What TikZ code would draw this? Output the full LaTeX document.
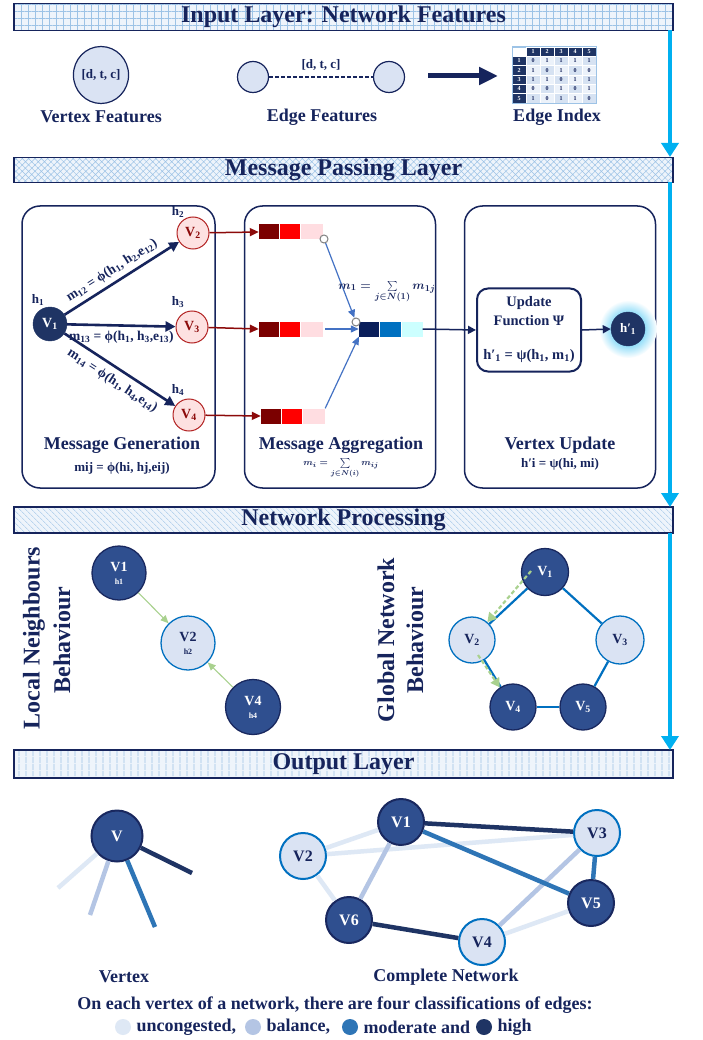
\documentclass[tikz,border=0pt]{standalone}
\usepackage{fontspec}
\setmainfont{Liberation Serif}
\usetikzlibrary{arrows.meta,patterns.meta,shapes.geometric,calc}
\definecolor{navy}{RGB}{22,36,92}
\definecolor{nodenavy}{RGB}{31,52,100}
\definecolor{gnavy}{RGB}{47,79,143}
\definecolor{gstroke}{RGB}{25,40,95}
\definecolor{lightfill}{RGB}{218,227,243}
\definecolor{brightblue}{RGB}{0,112,192}
\definecolor{pinkfill}{RGB}{253,225,225}
\definecolor{darkred}{RGB}{140,10,10}
\definecolor{redstroke}{RGB}{178,34,34}
\definecolor{cellred}{RGB}{255,0,0}
\definecolor{celldark}{RGB}{123,0,0}
\definecolor{cellpink}{RGB}{255,221,225}
\definecolor{aggnavy}{RGB}{10,30,90}
\definecolor{aggblue}{RGB}{0,112,192}
\definecolor{aggcyan}{RGB}{204,255,255}
\definecolor{arrowblue}{RGB}{68,114,196}
\definecolor{cyanarrow}{RGB}{0,176,240}
\definecolor{greenarr}{RGB}{169,209,142}
\definecolor{bannerbg}{RGB}{238,244,251}
\definecolor{patblue}{RGB}{157,195,230}
\definecolor{elight}{RGB}{222,232,245}
\definecolor{ebal}{RGB}{180,197,228}
\definecolor{emod}{RGB}{46,117,182}
\definecolor{ehigh}{RGB}{31,52,100}
\definecolor{matcell}{RGB}{214,226,242}
\definecolor{matcellb}{RGB}{236,242,250}
\newcommand{\fsz}[1]{\fontsize{#1}{#1}\selectfont}
\newcommand{\mformA}{\mbox{\boldmath$m_1 \mathrel{=} \sum\limits_{j\in N(1)} m_{1j}$}}
\newcommand{\mformB}{\mbox{\boldmath$m_i = \sum\limits_{j\in N(i)} m_{ij}$}}
\tikzset{
  banner/.style={draw=navy, line width=1.2pt, minimum width=659pt, inner sep=0pt,
    font=\fsz{24}\bfseries, text=navy, preaction={fill=bannerbg}, pattern color=patblue},
  cyanarr/.style={draw=cyanarrow, line width=4pt, -{Triangle[width=17pt,length=14pt]}},
  lbl/.style={font=\fsz{18}\bfseries, text=navy},
  small/.style={font=\fsz{13}\bfseries, text=navy},
  mlab/.style={font=\fsz{13.5}\bfseries, text=navy, inner sep=1pt},
  panelbox/.style={draw=navy, line width=1.5pt, rounded corners=18pt, minimum width=191pt, minimum height=282pt},
  vnavy/.style={circle, fill=nodenavy, draw=nodenavy, text=white, minimum size=34pt, inner sep=0pt, font=\fsz{14}\bfseries},
  vpink/.style={circle, fill=pinkfill, draw=redstroke, line width=1pt, text=darkred, minimum size=32pt, inner sep=0pt, font=\fsz{14}\bfseries},
  navyarr/.style={draw=navy, line width=2.6pt, -{Triangle[width=10pt,length=10pt]}},
  navythin/.style={draw=navy, line width=1.5pt, -{Triangle[width=8pt,length=8pt]}},
  redarr/.style={draw=darkred, line width=1.5pt, -{Triangle[width=8pt,length=9pt]}},
  bluearr/.style={draw=arrowblue, line width=1.2pt, -{Triangle[width=7pt,length=8pt]}},
  cell/.style={minimum height=15pt, inner sep=0pt, draw=none},
  smallc/.style={circle, draw=gray, fill=white, line width=1pt, minimum size=8pt, inner sep=0pt},
  gnode/.style={circle, fill=gnavy, draw=gstroke, line width=1.3pt, text=white, inner sep=0pt, font=\fsz{14}\bfseries, align=center},
  lnode/.style={circle, fill=lightfill, draw=brightblue, line width=1.3pt, text=navy, inner sep=0pt, font=\fsz{14}\bfseries, align=center},
  onode/.style={minimum size=46pt, line width=2pt, font=\fsz{16}\bfseries},
  greenarr/.style={draw=greenarr, line width=1.1pt, -{Triangle[width=7pt,length=8pt]}},
  gdash/.style={draw=greenarr, line width=2.2pt, dash pattern=on 4pt off 2.5pt, -{Triangle[width=10pt,length=9pt]}},
  blueedge/.style={draw=brightblue, line width=2.2pt},
  oedge/.style={line width=4.5pt},
  mcell/.style={minimum width=14pt, minimum height=9.3pt, inner sep=0pt, draw=white, line width=0.4pt, font=\fsz{6}\bfseries, text=navy},
  mhead/.style={mcell, fill=nodenavy, text=white},
  legc/.style={circle, minimum size=16pt, inner sep=0pt}
}
\begin{document}
\begin{tikzpicture}[x=1pt,y=-1pt]
\useasboundingbox[fill=white] (0,0) rectangle (702,1040);

% ---------------- banners ----------------
\node[banner, minimum height=27pt, pattern={Hatch[angle=0,distance=7pt,line width=0.5pt]}] (b1) at (343.5,17) {Input Layer: Network Features};
\node[banner, minimum height=25pt, pattern={Hatch[angle=45,distance=4.5pt,line width=0.5pt]}] (b2) at (343.5,170) {Message Passing Layer};
\node[banner, minimum height=26pt, pattern={Lines[angle=-45,distance=4pt,line width=0.5pt]}] (b3) at (343.5,520) {Network Processing};
\node[banner, minimum height=28pt, pattern={Lines[angle=90,distance=6.5pt,line width=0.8pt]}] (b4) at (343.5,764) {Output Layer};

% ---------------- flow arrows ----------------
\coordinate (s1) at (670,30.5); \coordinate (t1) at (670,157);
\coordinate (s2) at (670,182.5); \coordinate (t2) at (670,507);
\coordinate (s3) at (670,533); \coordinate (t3) at (670,750);
\draw[cyanarr] (s1) -- (t1);
\draw[cyanarr] (s2) -- (t2);
\draw[cyanarr] (s3) -- (t3);

% ---------------- input layer ----------------
\node[ellipse, draw=navy, line width=1.2pt, fill=lightfill, minimum width=52pt, minimum height=57pt, inner sep=0pt, small] (vf) at (101,75) {[d, t, c]};
\node[lbl] (vfl) at (101,117) {Vertex Features};
\node[circle, draw=navy, line width=1.2pt, fill=lightfill, minimum size=31pt] (ef1) at (253,77) {};
\node[circle, draw=navy, line width=1.2pt, fill=lightfill, minimum size=31pt] (ef2) at (389,77) {};
\draw[navy, line width=2.6pt, dash pattern=on 3.5pt off 2.5pt] (ef1) -- (ef2) node[midway, above=2pt, small] (efd) {[d, t, c]};
\node[lbl] (efl) at (322,117) {Edge Features};
\coordinate (ba1) at (428,76); \coordinate (ba2) at (498,76);
\draw[navy, line width=5pt, -{Triangle[width=17pt,length=19pt]}] (ba1) -- (ba2);
% adjacency matrix
\node[mcell, fill=white, draw=patblue] (m00) at (519,51.65) {};
\foreach \k in {1,...,5} {
  \node[mhead] (mc\k) at ({519+14*\k},51.65) {\k};
  \node[mhead] (mr\k) at (519,{51.65+9.3*\k}) {\k};
}
\foreach \r/\va/\vb/\vc/\vd/\ve in {1/0/1/1/1/1, 2/1/0/1/0/0, 3/1/1/0/1/1, 4/0/0/1/0/1, 5/1/0/1/1/0} {
  \foreach \v [count=\k] in {\va,\vb,\vc,\vd,\ve} {
    \pgfmathsetmacro{\odd}{mod(\k+\r,2)}
    \ifdim\odd pt=0pt
      \node[mcell, fill=matcell] (m\r\k) at ({519+14*\k},{51.65+9.3*\r}) {\v};
    \else
      \node[mcell, fill=matcellb] (m\r\k) at ({519+14*\k},{51.65+9.3*\r}) {\v};
    \fi
  }
}
\draw[patblue, line width=0.6pt] (m00.north west) rectangle (m55.south east);
\node[lbl] (eil) at (557,117) {Edge Index};

% ---------------- message passing layer ----------------
\node[panelbox, minimum width=193pt] (boxA) at (118.5,347) {};
\node[panelbox] (boxB) at (340,347) {};
\node[panelbox] (boxC) at (560,347) {};

% box A
\node[vnavy] (a1) at (50,324) {V\textsubscript{1}};
\node[vpink] (a2) at (193,233) {V\textsubscript{2}};
\node[vpink] (a3) at (192,327) {V\textsubscript{3}};
\node[vpink] (a4) at (189,415) {V\textsubscript{4}};
\node[small] (h1) at (38,300) {h\textsubscript{1}};
\node[small] (h2) at (178,212) {h\textsubscript{2}};
\node[small] (h3) at (178,302) {h\textsubscript{3}};
\node[small] (h4) at (178,390) {h\textsubscript{4}};
\draw[navyarr] (a1) -- (a2) node[pos=0.47, above=3.5pt, sloped, mlab] (m12) {m\textsubscript{12} = ϕ(h\textsubscript{1}, h\textsubscript{2},e\textsubscript{12})};
\draw[navyarr] (a1) -- (a3) node[midway, below=3pt, mlab] (m13) {m\textsubscript{13} = ϕ(h\textsubscript{1}, h\textsubscript{3},e\textsubscript{13})};
\draw[navyarr] (a1) -- (a4) node[pos=0.5, below=5pt, sloped, mlab] (m14) {m\textsubscript{14} = ϕ(h\textsubscript{1}, h\textsubscript{4},e\textsubscript{14})};
\node[lbl] (mgl) at (122,445) {Message Generation};
\node[small] (mgf) at (122,468) {mij = ϕ(hi, hj,eij)};

% box B: message vectors
\node[cell, minimum width=20pt, fill=celldark] (r1a) at (269,232) {};
\node[cell, minimum width=20pt, fill=cellred] (r1b) at (290,232) {};
\node[cell, minimum width=22pt, fill=cellpink] (r1c) at (312,232) {};
\node[cell, minimum width=20pt, fill=celldark] (r2a) at (269,329) {};
\node[cell, minimum width=20pt, fill=cellred] (r2b) at (290,329) {};
\node[cell, minimum width=22pt, fill=cellpink] (r2c) at (312,329) {};
\node[cell, minimum width=20pt, fill=celldark] (r3a) at (271,416) {};
\node[cell, minimum width=20pt, fill=cellred] (r3b) at (292,416) {};
\node[cell, minimum width=22pt, fill=cellpink] (r3c) at (314,416) {};
\draw[redarr] (a2) -- (r1a.west);
\draw[redarr] (a3) -- (r2a.west);
\draw[redarr] (a4) -- (r3a.west);
\node[cell, minimum width=20pt, fill=aggnavy] (ag1) at (369,329) {};
\node[cell, minimum width=21pt, fill=aggblue] (ag2) at (390.5,329) {};
\node[cell, minimum width=21pt, fill=aggcyan] (ag3) at (412,329) {};
\node[smallc] (sc1) at (324,239) {};
\node[smallc] (sc2) at (356,322) {};
\draw[bluearr] (sc1) -- (sc2);
\draw[bluearr, shorten <=2pt] (r2c.east) -- (ag1.west);
\draw[bluearr] (r3c.north east) -- (ag1.south west);
\node[text=navy, font=\fsz{13}] (m1f) at (387,292) {\mformA};
\node[lbl] (mal) at (341,445) {Message Aggregation};
\node[text=navy, font=\fsz{9.5}] (maf) at (341,468) {\mformB};

% box C
\node[draw=navy, line width=2pt, rounded corners=11pt, minimum width=104pt, minimum height=83pt] (upd) at (529,330) {};
\node[font=\fsz{14.5}\bfseries, text=navy] (u1) at (529,303) {Update};
\node[font=\fsz{14.5}\bfseries, text=navy] (u2) at (529,321) {Function Ψ};
\node[font=\fsz{14.5}\bfseries, text=navy] (u3) at (529,356) {h′\textsubscript{1} = ψ(h\textsubscript{1}, m\textsubscript{1})};
\draw[navythin] (ag3.east) -- (upd.west);
\shade[inner color=cyanarrow, outer color=white] (628,329) circle (29pt);
\node[vnavy, font=\fsz{13}\bfseries] (hp) at (628,329) {h′\textsubscript{1}};
\draw[navythin] (upd.east) -- (hp.west);
\node[lbl] (vul) at (560,445) {Vertex Update};
\node[small] (vuf) at (560,464) {h′i = ψ(hi, mi)};

% ---------------- network processing ----------------
\node[rotate=90, font=\fsz{24}\bfseries, text=navy] (ln1) at (34,638) {Local Neighbours};
\node[rotate=90, font=\fsz{24}\bfseries, text=navy] (ln2) at (62,640) {Behaviour};
\node[gnode, minimum size=54pt] (lv1) at (119,573) {V1\\[-1pt]{\fsz{8}h1}};
\node[lnode, minimum size=54pt] (lv2) at (188,643) {V2\\[-1pt]{\fsz{8}h2}};
\node[gnode, minimum size=55pt] (lv4) at (253,707) {V4\\[-1pt]{\fsz{8}h4}};
\draw[greenarr] (lv1) -- (lv2);
\draw[greenarr] (lv4) -- (lv2);

\node[rotate=90, font=\fsz{24}\bfseries, text=navy] (gn1) at (386,640) {Global Network};
\node[rotate=90, font=\fsz{24}\bfseries, text=navy] (gn2) at (415,640) {Behaviour};
\node[gnode, minimum size=47pt] (gv1) at (545,572) {V\textsubscript{1}};
\node[lnode, minimum size=46pt] (gv2) at (472,640) {V\textsubscript{2}};
\node[lnode, minimum size=48pt] (gv3) at (620,640) {V\textsubscript{3}};
\node[gnode, minimum size=46pt] (gv4) at (513,707) {V\textsubscript{4}};
\node[gnode, minimum size=46pt] (gv5) at (583,707) {V\textsubscript{5}};
\draw[blueedge] (gv1) -- (gv3);
\draw[blueedge] (gv3) -- (gv5);
\draw[blueedge] (gv5) -- (gv4);
\draw[blueedge] (gv4) -- (gv2);
\draw[blueedge] (gv2) -- (gv1);
\coordinate (gs1) at (531,571);
\coordinate (gs2) at (478,655);
\draw[gdash] (gs1) -- (gv2);
\draw[gdash] (gs2) -- (gv4);

% ---------------- output layer ----------------
\coordinate (e1) at (58,888);
\coordinate (e2) at (90,915);
\coordinate (e3) at (155,927);
\coordinate (e4) at (192,873);
\node[gnode, onode, minimum size=51pt] (ov) at (117,836) {V};
\draw[oedge, elight] (ov) -- (e1);
\draw[oedge, ebal] (ov) -- (e2);
\draw[oedge, emod] (ov) -- (e3);
\draw[oedge, ehigh] (ov) -- (e4);

\node[gnode, onode] (o1) at (401,822) {V1};
\node[lnode, onode] (o2) at (303,856) {V2};
\node[lnode, onode] (o3) at (597,833) {V3};
\node[gnode, onode] (o5) at (591,903) {V5};
\node[gnode, onode] (o6) at (349,920) {V6};
\node[lnode, onode] (o4) at (482,942) {V4};
\draw[oedge, elight] (o2) -- (o1);
\draw[oedge, elight] (o2) -- (o3);
\draw[oedge, elight] (o2) -- (o6);
\draw[oedge, elight] (o4) -- (o5);
\draw[oedge, ebal] (o1) -- (o6);
\draw[oedge, ebal] (o4) -- (o3);
\draw[oedge, emod] (o1) -- (o5);
\draw[oedge, emod] (o3) -- (o5);
\draw[oedge, ehigh] (o1) -- (o3);
\draw[oedge, ehigh] (o6) -- (o4);

\node[lbl] (vxl) at (124,977) {Vertex};
\node[lbl] (cnl) at (446,977) {Complete Network};
\node[lbl] (cls) at (335,1005) {On each vertex of a network, there are four classifications of edges:};
\node[legc, fill=elight] (lc1) at (123,1027) {};
\node[lbl, anchor=west] (lt1) at (133,1027) {uncongested,};
\node[legc, fill=ebal] (lc2) at (253,1027) {};
\node[lbl, anchor=west] (lt2) at (263,1027) {balance,};
\node[legc, fill=emod] (lc3) at (350,1027) {};
\node[lbl, anchor=west] (lt3) at (360,1027) {moderate and};
\node[legc, fill=ehigh] (lc4) at (484,1027) {};
\node[lbl, anchor=west] (lt4) at (494,1027) {high};
\end{tikzpicture}
\end{document}
